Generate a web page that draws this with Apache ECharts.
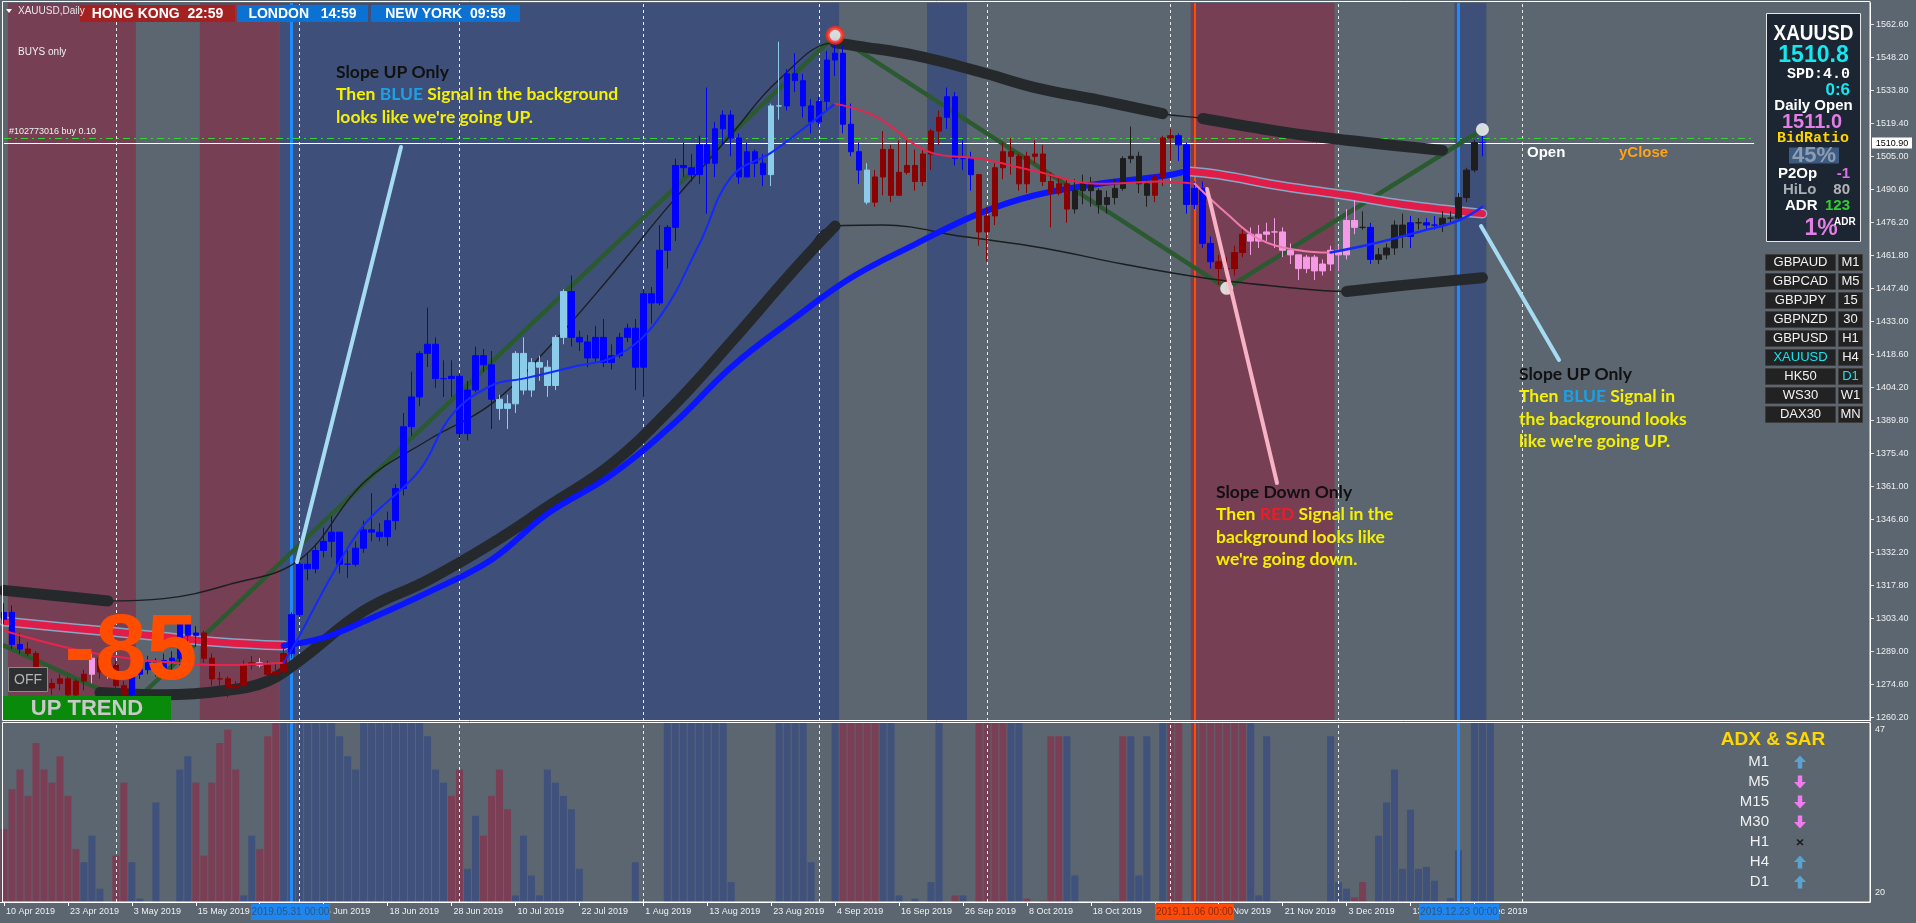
<!DOCTYPE html>
<html><head><meta charset="utf-8">
<script src="https://cdn.jsdelivr.net/npm/echarts@6/dist/echarts.min.js"></script>
<style>html,body{margin:0;padding:0;background:#5b6670;overflow:hidden}#c{width:1916px;height:923px}</style>
</head><body><div id="c"></div><script>
// ---------- DATA ----------
// daily bars: [open, high, low, close], 10 Apr 2019 .. 27 Dec 2019
const ohlc = [
[1303,1310,1301,1306],[1306,1309,1290,1292],[1292,1297,1288,1290],[1290,1293,1287,1288],[1288,1289,1273,1275],
[1275,1280,1272,1273],[1273,1277,1270,1275],[1275,1279,1272,1277],[1277,1278,1266,1270],[1270,1277,1268,1276],
[1276,1281,1272,1279],[1279,1288,1275,1286],[1286,1286,1277,1280],[1280,1286,1277,1283],[1283,1285,1268,1274],
[1274,1276,1266,1270],[1270,1282,1267,1279],[1279,1286,1277,1281],[1281,1287,1279,1284],[1284,1286,1278,1281],
[1281,1288,1280,1285],[1285,1289,1281,1286],[1286,1303,1283,1301],[1301,1302,1292,1296],[1296,1300,1291,1297],
[1297,1298,1284,1286],[1286,1288,1274,1277],[1277,1280,1273,1277],[1277,1278,1269,1273],[1273,1276,1272,1274],
[1274,1285,1272,1283],[1283,1287,1281,1284],[1284,1286,1282,1283],[1283,1285,1276,1279],[1279,1284,1276,1280],
[1280,1291,1277,1288],[1288,1306,1286,1305],[1305,1328,1304,1327],[1327,1332,1320,1325],[1325,1336,1323,1333],
[1333,1343,1330,1337],[1337,1348,1330,1341],[1341,1341,1323,1327],[1327,1333,1321,1327],[1327,1337,1326,1334],
[1334,1346,1332,1342],[1342,1358,1337,1341],[1341,1345,1337,1339],[1339,1350,1335,1346],[1346,1362,1342,1360],
[1360,1393,1357,1387],[1387,1411,1383,1400],[1400,1420,1396,1419],[1419,1439,1413,1423],[1423,1426,1404,1408],
[1408,1416,1400,1408],[1408,1416,1400,1409],[1409,1410,1382,1384],[1384,1407,1381,1403],[1403,1422,1402,1418],
[1418,1421,1411,1414],[1414,1420,1386,1399],[1399,1401,1390,1395],[1395,1401,1386,1397],[1397,1420,1393,1419],
[1419,1426,1401,1403],[1403,1417,1400,1415],[1415,1418,1407,1413],[1413,1416,1400,1405],[1405,1427,1403,1426],
[1426,1447,1423,1446],[1446,1453,1422,1426],[1426,1429,1420,1424],[1424,1427,1413,1417],[1417,1431,1415,1426],
[1426,1434,1413,1415],[1415,1423,1412,1418],[1418,1428,1417,1426],[1426,1432,1424,1430],[1430,1434,1403,1413],
[1413,1447,1400,1445],[1445,1448,1432,1441],[1441,1475,1440,1464],[1464,1475,1456,1474],[1474,1504,1468,1501],
[1501,1511,1496,1500],[1500,1506,1494,1497],[1497,1514,1493,1510],[1510,1535,1480,1502],[1502,1520,1496,1517],
[1517,1525,1510,1523],[1523,1525,1505,1513],[1513,1515,1493,1496],[1496,1511,1496,1507],[1507,1508,1496,1502],
[1502,1506,1492,1497],[1497,1528,1492,1527],[1527,1555,1521,1527],[1527,1543,1525,1541],[1541,1550,1533,1538],
[1538,1541,1522,1527],[1527,1530,1515,1520],[1520,1531,1518,1529],[1529,1551,1525,1547],[1547,1557,1540,1550],
[1550,1553,1515,1519],[1519,1528,1505,1507],[1507,1511,1493,1499],[1499,1502,1484,1485],[1485,1499,1483,1496],
[1496,1516,1488,1508],[1508,1510,1485,1488],[1488,1512,1488,1498],[1498,1512,1497,1501],[1501,1508,1490,1494],
[1494,1508,1492,1506],[1506,1517,1499,1516],[1516,1525,1510,1522],[1522,1535,1517,1531],[1531,1533,1501,1504],
[1504,1512,1499,1504],[1504,1507,1490,1497],[1497,1497,1466,1472],[1472,1483,1459,1479],[1479,1502,1475,1500],
[1500,1511,1495,1507],[1507,1513,1497,1505],[1505,1506,1490,1493],[1493,1507,1489,1505],[1505,1512,1502,1506],
[1506,1510,1492,1494],[1494,1498,1474,1489],[1489,1496,1488,1493],[1493,1495,1476,1482],[1482,1495,1480,1490],
[1490,1497,1484,1493],[1493,1496,1483,1490],[1490,1491,1480,1484],[1484,1490,1480,1487],[1487,1495,1484,1491],
[1491,1505,1490,1504],[1504,1518,1502,1505],[1505,1507,1489,1493],[1493,1495,1483,1488],[1488,1497,1485,1496],
[1496,1514,1492,1513],[1513,1517,1503,1514],[1514,1515,1503,1510],[1510,1511,1480,1484],[1484,1494,1482,1491],
[1491,1494,1465,1467],[1467,1470,1456,1459],[1459,1462,1449,1456],[1456,1461,1445,1456],[1456,1466,1453,1463],
[1463,1474,1461,1471],[1471,1474,1462,1468],[1468,1475,1465,1471],[1471,1476,1468,1472],[1472,1478,1465,1472],
[1472,1474,1461,1464],[1464,1467,1458,1462],[1462,1462,1451,1456],[1456,1462,1454,1461],[1461,1462,1451,1455],
[1455,1460,1453,1458],[1458,1466,1455,1464],[1464,1466,1455,1462],[1462,1482,1460,1477],[1477,1486,1471,1474],
[1474,1481,1473,1474],[1474,1476,1458,1460],[1460,1465,1458,1462],[1462,1467,1460,1465],[1465,1477,1462,1475],
[1475,1480,1465,1470],[1470,1479,1465,1476],[1476,1478,1473,1476],[1476,1478,1473,1475],[1475,1479,1473,1475],
[1475,1481,1472,1478],[1478,1481,1476,1478],[1478,1489,1477,1487],[1487,1500,1485,1499],[1499,1512,1498,1511],
[1511,1514,1505,1510.9]
];
// candle colour state per bar: B blue, L light blue, R dark red, P pink, K black
const candleState = (
 'BBBRRRRRRRRPRPRRBBBBBBBBBRRRRRRRPRRR' +
 'BBBBBBBBBBBBBBBBBBBBBBBBBBLLLLLLLLLBBBBBBBBBBBBBBBBBBBBBBBBBLLBBBBBBBBBB' +
 'LRRRRRRRRRBBBBRRRRRRRRRRRRKKKKKKKKKKRRRBBBBB' +
 'RRRRPPPPPPPPPPPPPP' +
 'KBKKKKBKBBKKKKKBBBB'
).split('');
// background signal periods [fromBar, toBar, slope: 1 up, -1 down]
const signalPeriods = [[1,16,-1],[25,34,-1],[35,104,1],[116,120,1],[149,166,-1],[182,185,1]];
const separators = [14,37,57,80,102,123,146,167,190];
const signalLines = [[36,1],[149,-1],[182,1]];
const tickLabels = ['10 Apr 2019','23 Apr 2019','3 May 2019','15 May 2019','27 May 2019','6 Jun 2019','18 Jun 2019',
 '28 Jun 2019','10 Jul 2019','22 Jul 2019','1 Aug 2019','13 Aug 2019','23 Aug 2019','4 Sep 2019','16 Sep 2019',
 '26 Sep 2019','8 Oct 2019','18 Oct 2019','30 Oct 2019','11 Nov 2019','21 Nov 2019','3 Dec 2019','13 Dec 2019','26 Dec 2019'];
const priceTicks = [1260.2,1274.6,1289.0,1303.4,1317.8,1332.2,1346.6,1361.0,1375.4,1389.8,1404.2,1418.6,1433.0,
 1447.4,1461.8,1476.2,1490.6,1505.0,1519.4,1533.8,1548.2,1562.6];
// slow MA (thick) split by slope
const slowMaFalling1 = [[0,1302],[9,1299],[18,1296],[27,1293],[35,1291.5]];
const slowMaRising = [[35,1291.5],[40,1295],[45,1302],[53,1314.6],[61,1329],[68,1349],[76,1366],[84,1389],[91,1413],
 [99,1434.6],[106,1452],[114,1466.6],[122,1480],[129,1488],[137,1493],[145,1496.4],[148,1498.5]];
const slowMaFalling2 = [[148,1498.5],[152,1497],[160,1492],[168,1488],[175,1484],[185,1480]];
// fast MA (thin) split by slope
const fastMaFalling1 = [[0,1298],[10,1289],[18,1285],[27,1283],[35,1284]];
const fastMaRising1 = [[35,1284],[37,1296],[41,1322],[45,1344],[52,1368],[56,1392],[61,1405],[65,1408],[71,1413],
 [77,1418.6],[82,1434.6],[87,1466.6],[91,1496],[96,1506.6],[100,1517],[104,1528]];
const fastMaFalling2 = [[104,1528],[109,1522.5],[116,1506.6],[122,1504],[129,1498.6],[137,1493],[145,1494],[149,1493]];
const fastMaFalling3 = [[149,1493],[153,1480],[157,1469],[162,1464],[166,1463]];
const fastMaRising2 = [[166,1463],[171,1466.6],[177,1472],[182,1477],[185,1483]];
// envelope bands
const upperBand = [[0,1315.6],[6,1313.5],[13,1311],[20,1312],[28,1318],[37,1329],[45,1362.6],[53,1381],[61,1397],
 [68,1421],[76,1453],[83,1482.6],[91,1514.5],[97,1538.5],[104,1554.5],[107,1553],[114,1549],[122,1542],[129,1535],
 [137,1529.5],[145,1523.6],[150,1521.5],[160,1515.6],[168,1512],[180,1507.6]];
const upperBandWide1 = [[0,1315.6],[6,1313.5],[13,1311]];
const upperBandWide2 = [[104,1554.5],[107,1553],[114,1549],[122,1542],[129,1535],[137,1529.5],[145,1523.6]];
const upperBandWide3 = [[150,1521.5],[160,1515.6],[168,1512],[180,1507.6]];
const lowerBand = [[12,1271],[20,1270],[28,1272],[33,1276],[37,1285],[45,1306.6],[53,1320],[61,1336],[68,1352],
 [76,1370.6],[84,1397],[91,1424],[99,1456],[104,1474.6],[110,1475],[120,1470],[130,1465],[140,1458],[150,1452],
 [160,1448],[168,1446],[176,1449],[185,1452]];
const lowerBandWide1 = [[12,1271],[20,1270],[28,1272],[33,1276],[37,1285],[45,1306.6],[53,1320],[61,1336],[68,1352],
 [76,1370.6],[84,1397],[91,1424],[99,1456],[104,1474.6]];
const lowerBandWide2 = [[168,1446],[176,1449],[185,1452]];
// zigzag swings
const zigzag = [[0,1291.5],[16,1266],[104,1557.8],[153,1447.4],[185,1516.7]];
const swingHigh = [[104,1557.8]];
const swingLows = [[153,1447.4],[185,1516.7]];
const bidPrice = 1510.9, orderPrice = 1512.7;
// ADX histogram (value, tone R/B/-)
const adxValue = [31,37,40,36,44,40,38,42,36,28, 26,30,22,0,27,38,26,20.5,0,35, 0,0,40,42,38,27,38,44,46,40,
 21,30,28,45,47,48, 55,55,55,55,55,50,45,42,40,48,52,55,55,55,55,55,50,45,40,38,36, 40,25,33,30,36,40,34,21,30,24,
 21,40,38,36,34,25,0,0,0,0,0,0,26,0,0, 0,55,55,55,55,55,55,55,55,23, 0,0,0,0,0,55,55,55,55,26, 0,0,55,55,
 55,55,55,55,48,48,21,0,20.5,0,23,50,0,21,21,0,50,50,50,50,50,50,20.5,0,20.2,45,45,45,24,0,0,0,0,20.2,45,45,24,45,0,
 50,50,50,0,50, 55,55,55,55,55,55,55,21,45,20.2,0,0,0,0,0,0,45,23,22,20.7,23,0,30,35,40,25,33.9,25,25.3,23.2,0,20.6,
 27.8,0,55,55,55];
const adxTone = (
 'RRRRRRRRRRBB-RRRB-B--BBBRRRRRRBBRRR' +
 'BBBBBBBBBBBBBBBBBBBBB' + 'RRBBRRRRBBBBBBBB------R---' +
 'BBBBBBBBB' + '-----BBBBB' + '--BB' +
 'RRRRRBB-R-BB-BR-RRRRRB-RRRRR----BBRR-' +
 'BBB-R' + 'RRRRRRRRR------RRRRBBBRRBBBBB-BB-BBB'
).split('');

// ---------- CHART ----------
const N = 234, Y0 = 1258.6, Y1 = 1571.9;
const cats = Array.from({length: N}, (_, i) => String(i));
const C = {bg:'#5b6670', down:'#773f53', up:'#3e5079', blue:'#0a14ff', red:'#e01c48'};
const toneCol = {B:'#0000ff', L:'#8ccbea', R:'#8b0000', P:'#f59ae6', K:'#1e1e1e'};

const chart = echarts.init(document.getElementById('c'), null, {renderer: 'canvas'});
const lineS = (data, color, width, z, extra) => Object.assign({
  type: 'line', xAxisIndex: 0, yAxisIndex: 0, data, smooth: 0.4, symbol: 'none', silent: true, z,
  lineStyle: {color, width, cap: 'round', join: 'round'}, animation: false
}, extra || {});

const labelIdx = i => i % 8 === 0 && i / 8 < tickLabels.length;
const FONT = 'Liberation Sans';

function txt(x, y, text, fill, font, align, extra) {
  return Object.assign({type: 'text', x, y, z: 200, silent: true,
    style: {text, fill, font, textAlign: align || 'left', textVerticalAlign: 'middle'}}, extra || {});
}
function rect(x, y, w, h, fill, stroke, z) {
  return {type: 'rect', z: z || 150, silent: true, shape: {x, y, width: w, height: h},
    style: {fill, stroke: stroke || null, lineWidth: 1}};
}
function arrow(cx, cy, up, col) {
  const s = up ? 1 : -1;
  return {type: 'polygon', z: 200, silent: true, style: {fill: col}, shape: {points: [
    [cx, cy - 6.5 * s], [cx + 6, cy], [cx + 2.2, cy], [cx + 2.2, cy + 6.5 * s],
    [cx - 2.2, cy + 6.5 * s], [cx - 2.2, cy], [cx - 6, cy]]}};
}

const graphic = [];
graphic.push({type: 'rect', z: 120, silent: true, shape: {x: 2.5, y: 1.5, width: 1867.5, height: 719}, style: {fill: null, stroke: '#ffffff', lineWidth: 1}});
graphic.push({type: 'rect', z: 120, silent: true, shape: {x: 2.5, y: 722.5, width: 1867.5, height: 179.5}, style: {fill: null, stroke: '#ffffff', lineWidth: 1}});
// header
graphic.push({type: 'polygon', z: 200, silent: true, shape: {points: [[6, 9], [12, 9], [9, 13]]}, style: {fill: '#ffffff'}});
graphic.push(txt(18, 11, 'XAUUSD,Daily', '#e6e6e6', '10px ' + FONT));
graphic.push(rect(80, 5, 155, 17, '#a32121'));
graphic.push(txt(157.5, 14, 'HONG KONG  22:59', '#ffffff', 'bold 14px ' + FONT, 'center'));
graphic.push(rect(237, 5, 131, 17, '#0b72d4'));
graphic.push(txt(302.5, 14, 'LONDON   14:59', '#ffffff', 'bold 14px ' + FONT, 'center'));
graphic.push(rect(371, 5, 149, 17, '#0b72d4'));
graphic.push(txt(445.5, 14, 'NEW YORK  09:59', '#ffffff', 'bold 14px ' + FONT, 'center'));
graphic.push(txt(18, 52, 'BUYS only', '#f0f0f0', '10px ' + FONT));
graphic.push(txt(9, 132, '#102773016 buy 0.10', '#f0f0f0', '9px ' + FONT));
graphic.push(txt(1527, 153, 'Open', '#ffffff', 'bold 15px ' + FONT));
graphic.push(txt(1619, 153, 'yClose', '#ffa21a', 'bold 15px ' + FONT));
// annotations
const AF = 'bold 17.5px Lato';
const ann = (x, y, lines) => lines.forEach((t, k) => graphic.push({type: 'text', x, y: y + k * 22.6, z: 210, silent: true,
  style: {text: t, font: AF, fill: '#f5f000', textVerticalAlign: 'middle',
    rich: {k: {fill: '#111111', font: AF}, b: {fill: '#1ba1e6', font: AF}, r: {fill: '#ee1c25', font: AF}, y: {fill: '#f5f000', font: AF}}}}));
ann(336, 72, ['{k|Slope UP Only}', '{y|Then }{b|BLUE}{y| Signal in the background}', '{y|looks like we\'re going UP.}']);
ann(1216, 492, ['{k|Slope Down Only}', '{y|Then }{r|RED}{y| Signal in the}', '{y|background looks like}', '{y|we\'re going down.}']);
ann(1519, 374, ['{k|Slope UP Only}', '{y|Then }{b|BLUE}{y| Signal in}', '{y|the background looks}', '{y|like we\'re going UP.}']);
const pline = (x1, y1, x2, y2, c) => graphic.push({type: 'line', z: 190, silent: true, shape: {x1, y1, x2, y2}, style: {stroke: c, lineWidth: 4, lineCap: 'round'}});
pline(401, 147, 297, 562, '#a6dcf2');
pline(1207, 189, 1277, 483, '#f7b2c6');
pline(1481, 226, 1559, 360, '#a6dcf2');
// left-bottom widgets
graphic.push(rect(8.5, 667.5, 39, 24, '#2e2f30', '#8a8a8a'));
graphic.push(txt(28, 680, 'OFF', '#b4b4b4', '14px ' + FONT, 'center'));
graphic.push(rect(3, 696, 168, 24, '#0a8a0a'));
graphic.push(txt(87, 708.5, 'UP TREND', '#c9c9c9', 'bold 22px ' + FONT, 'center'));
graphic.push(txt(131, 654, '-85', '#ff4d00', 'bold 92px ' + FONT, 'center', {z: 205}));
// info panel
graphic.push(rect(1766.5, 13.5, 94, 228, '#1c2632', '#e6e6e6'));
graphic.push(txt(1813.5, 33.5, 'XAUUSD', '#ffffff', 'bold 22px ' + FONT, 'center', {scaleX: 0.86, z: 220}));
graphic.push(txt(1813.5, 55.5, '1510.8', '#16e6f0', 'bold 23px ' + FONT, 'center'));
graphic.push(txt(1850, 74.5, 'SPD:4.0', '#ffffff', 'bold 15px Liberation Mono', 'right'));
graphic.push(txt(1850, 90.5, '0:6', '#16e6f0', 'bold 17px ' + FONT, 'right'));
graphic.push(txt(1813.5, 105.5, 'Daily Open', '#ffffff', 'bold 15px ' + FONT, 'center'));
graphic.push(txt(1812, 122.5, '1511.0', '#e27ee6', 'bold 20px ' + FONT, 'center'));
graphic.push(txt(1813, 138.5, 'BidRatio', '#ffd400', 'bold 15px Liberation Mono', 'center'));
graphic.push(rect(1789, 147.5, 50, 16, '#3d5b80'));
graphic.push(txt(1814, 156, '45%', '#8c9db2', 'bold 22px ' + FONT, 'center'));
graphic.push(txt(1778, 173.5, 'P2Op', '#ffffff', 'bold 15px ' + FONT));
graphic.push(txt(1850, 173.5, '-1', '#e070e6', 'bold 15px ' + FONT, 'right'));
graphic.push(txt(1783, 189.5, 'HiLo', '#a8aeb4', 'bold 15px ' + FONT));
graphic.push(txt(1850, 189.5, '80', '#b4b4b4', 'bold 15px ' + FONT, 'right'));
graphic.push(txt(1785, 205.5, 'ADR', '#ffffff', 'bold 15px ' + FONT));
graphic.push(txt(1850, 205.5, '123', '#2ed12e', 'bold 15px ' + FONT, 'right'));
graphic.push(txt(1821, 228.5, '1%', '#e27ee6', 'bold 23px ' + FONT, 'center'));
graphic.push(txt(1834, 222, 'ADR', '#ffffff', 'bold 10px ' + FONT));
// symbol buttons
const symbols = [['GBPAUD','M1'],['GBPCAD','M5'],['GBPJPY','15'],['GBPNZD','30'],['GBPUSD','H1'],['XAUUSD','H4'],['HK50','D1'],['WS30','W1'],['DAX30','MN']];
symbols.forEach(([s, tf], k) => {
  const y = 254 + 19 * k;
  graphic.push(rect(1765.5, y + 0.5, 70, 16, '#222222', '#3c3c3c'));
  graphic.push(rect(1838.5, y + 0.5, 24, 16, '#222222', '#3c3c3c'));
  graphic.push(txt(1800.5, y + 8.5, s, s === 'XAUUSD' ? '#19e3ef' : '#f2f2f2', '13px ' + FONT, 'center'));
  graphic.push(txt(1850.5, y + 8.5, tf, tf === 'D1' ? '#19e3ef' : '#f2f2f2', '13px ' + FONT, 'center'));
});
// current price label
graphic.push(rect(1872, 137.5, 40, 11, '#ffffff', null, 210));
graphic.push(txt(1892, 143.5, '1510.90', '#000000', '9px ' + FONT, 'center', {z: 215}));
// ADX panel texts
graphic.push(txt(1875, 729.5, '47', '#f0f0f0', '9px ' + FONT));
graphic.push(txt(1875, 893, '20', '#f0f0f0', '9px ' + FONT));
graphic.push(txt(1773, 739.5, 'ADX & SAR', '#ffd700', 'bold 19px ' + FONT, 'center'));
const sar = [['M1','up'],['M5','down'],['M15','down'],['M30','down'],['H1','none'],['H4','up'],['D1','up']];
sar.forEach(([tf, d], k) => {
  const y = 762 + 20 * k;
  graphic.push(txt(1769, y, tf, '#f0f0f0', '15px ' + FONT, 'right'));
  if (d === 'up') graphic.push(arrow(1800, y, true, '#5aa3d0'));
  else if (d === 'down') graphic.push(arrow(1800, y, false, '#f07cf0'));
  else {
    graphic.push({type: 'line', z: 200, silent: true, shape: {x1: 1797, y1: 839.5, x2: 1803, y2: 845}, style: {stroke: '#1a1a1a', lineWidth: 1.6}});
    graphic.push({type: 'line', z: 200, silent: true, shape: {x1: 1803, y1: 839.5, x2: 1797, y2: 845}, style: {stroke: '#1a1a1a', lineWidth: 1.6}});
  }
});
// crosshair date labels
const dateBox = (x, w, t, bg, fg) => { graphic.push(rect(x, 904, w, 16, bg, null, 210)); graphic.push(txt(x + w / 2, 912, t, fg, '10px ' + FONT, 'center', {z: 215})); };
dateBox(251, 79, '2019.05.31 00:00', '#1e86f0', '#2e5680');
dateBox(1155, 79, '2019.11.06 00:00', '#ff4a08', '#8c2a08');
dateBox(1419, 80, '2019.12.23 00:00', '#1e86f0', '#2e5680');

const candleData = ohlc.map(([o, h, l, c], i) => {
  const col = toneCol[candleState[i]] || '#0000ff';
  return {value: [o, c, l, h], itemStyle: {color: col, color0: col, borderColor: col, borderColor0: col}};
});
const adxData = adxValue.map((v, i) => ({value: v > 0 ? v : null, itemStyle: {color: adxTone[i] === 'R' ? '#7a3f54' : '#40527b'}}));

const vMark = (grid) => ({
  type: 'line', xAxisIndex: grid, yAxisIndex: grid, data: [], silent: true, z: 3,
  markLine: {silent: true, symbol: 'none', animation: false, label: {show: false},
    data: separators.map(i => ({xAxis: String(i), lineStyle: {color: '#eaeaea', width: 1, type: [3, 3]}}))
      .concat(signalLines.map(([i, s]) => ({xAxis: String(i), lineStyle: {color: s > 0 ? '#1e8cff' : '#ff4c00', width: s > 0 ? 3 : 2, type: 'solid'}})))}
});

const option = {
  backgroundColor: C.bg, animation: false,
  textStyle: {fontFamily: FONT},
  grid: [
    {left: 0, width: 1870, top: 3, height: 718, show: false},
    {left: 0, width: 1870, top: 723, height: 179, show: false}
  ],
  xAxis: [
    {type: 'category', data: cats, gridIndex: 0, boundaryGap: true, show: false},
    {type: 'category', data: cats, gridIndex: 1, boundaryGap: true,
      axisLine: {show: true, lineStyle: {color: '#ffffff'}},
      axisTick: {show: true, alignWithLabel: true, length: 4, interval: (i) => labelIdx(i), lineStyle: {color: '#ffffff'}},
      axisLabel: {show: true, interval: (i) => labelIdx(i), formatter: (v, i) => tickLabels[i / 8] || '', color: '#f0f0f0',
        fontSize: 9, fontFamily: FONT, align: 'left', margin: 5, padding: [0, 0, 0, 2]},
      splitLine: {show: false}}
  ],
  yAxis: [
    {type: 'value', gridIndex: 0, min: Y0, max: Y1, position: 'right', scale: true,
      axisLine: {show: true, lineStyle: {color: '#ffffff'}},
      axisTick: {show: true, length: 4, customValues: priceTicks, lineStyle: {color: '#e0e0e0'}},
      axisLabel: {show: true, customValues: priceTicks, formatter: v => v.toFixed(2), color: '#eeeeee', fontSize: 9, fontFamily: FONT, margin: 6},
      splitLine: {show: false}},
    {type: 'value', gridIndex: 1, min: 20, max: 47, position: 'right',
      axisLine: {show: true, lineStyle: {color: '#ffffff'}}, axisTick: {show: false}, axisLabel: {show: false}, splitLine: {show: false}}
  ],
  series: [
    {type: 'custom', xAxisIndex: 0, yAxisIndex: 0, silent: true, z: 1, animation: false,
      data: signalPeriods, encode: {x: [0, 1]},
      renderItem: (params, api) => {
        const p1 = api.coord([api.value(0), Y1]), p2 = api.coord([api.value(1), Y0]);
        const w = api.size([1, 0])[0];
        return {type: 'rect', shape: {x: p1[0] - w / 2, y: p1[1], width: p2[0] - p1[0] + w, height: p2[1] - p1[1]},
          style: {fill: api.value(2) > 0 ? C.up : C.down}};
      }},
    vMark(0), vMark(1),
    {type: 'line', xAxisIndex: 0, yAxisIndex: 0, data: [], silent: true, z: 4,
      markLine: {silent: true, symbol: 'none', animation: false, label: {show: false}, data: [
        [{coord: ['0', bidPrice], lineStyle: {color: '#ffffff', width: 1, type: 'solid'}}, {coord: ['219', bidPrice]}],
        [{coord: ['0', orderPrice], lineStyle: {color: '#33d633', width: 1, type: [7, 4, 2, 4]}}, {coord: ['219', orderPrice]}]
      ]}},
    lineS(zigzag, '#2b5a30', 4.5, 5, {smooth: false}),
    lineS(upperBand, '#1c1e20', 1.4, 6),
    lineS(lowerBand, '#1c1e20', 1.4, 6),
    lineS(upperBandWide1, '#26292c', 11, 6),
    lineS(upperBandWide2, '#26292c', 11, 6),
    lineS(upperBandWide3, '#26292c', 11, 6),
    lineS(lowerBandWide1, '#26292c', 11, 6),
    lineS(lowerBandWide2, '#26292c', 11, 6),
    lineS(slowMaFalling1, '#86a6c8', 10, 7),
    lineS(slowMaFalling1, C.red, 7, 7),
    lineS(slowMaFalling2, '#86a6c8', 10, 7),
    lineS(slowMaFalling2, C.red, 7, 7),
    lineS(slowMaRising, C.blue, 6, 7),
    {type: 'candlestick', xAxisIndex: 0, yAxisIndex: 0, data: candleData, barWidth: 6, silent: true, z: 8, animation: false},
    lineS(fastMaFalling1, '#e8244e', 2, 9),
    lineS(fastMaRising1, '#1428ff', 2, 9),
    lineS(fastMaFalling2, '#e8244e', 2, 9),
    lineS(fastMaFalling3, '#f07ab0', 2, 9),
    lineS(fastMaRising2, '#1428ff', 2.5, 9),
    {type: 'scatter', xAxisIndex: 0, yAxisIndex: 0, data: swingHigh, symbol: 'circle', symbolSize: 15, silent: true, z: 12,
      itemStyle: {color: '#ffffff', borderColor: '#ff2a1a', borderWidth: 4}},
    {type: 'scatter', xAxisIndex: 0, yAxisIndex: 0, data: swingLows, symbol: 'circle', symbolSize: 13, silent: true, z: 12,
      itemStyle: {color: '#ffffff'}},
    {type: 'bar', xAxisIndex: 1, yAxisIndex: 1, data: adxData, barCategoryGap: '12%', silent: true, z: 2, animation: false}
  ],
  graphic: {elements: graphic}
};
chart.setOption(option);
</script></body></html>
